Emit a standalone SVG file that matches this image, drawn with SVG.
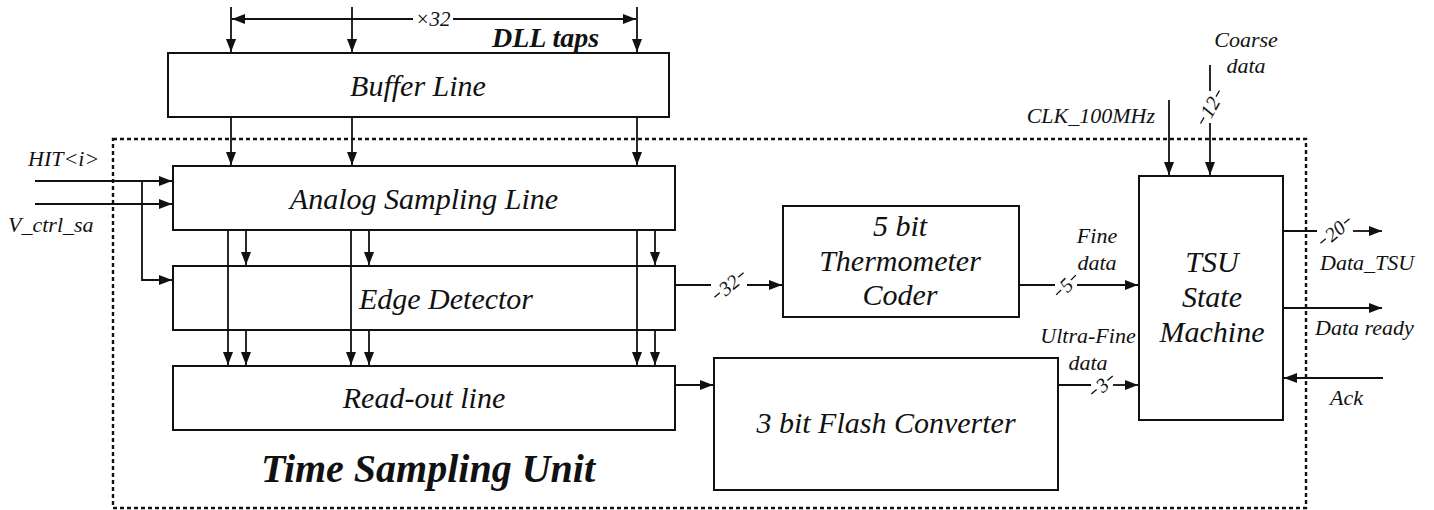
<svg xmlns="http://www.w3.org/2000/svg" width="1434" height="510" viewBox="0 0 1434 510">
<style>
text{font-family:"Liberation Serif","DejaVu Serif",serif;font-style:italic;fill:#111}
.box{fill:#fff;stroke:#111;stroke-width:2}
.lbl{font-size:30px;text-anchor:middle}
.sm{font-size:22px}
.c{text-anchor:middle}
.w{fill:none;stroke:#111;stroke-width:1.8}
.bus{font-size:20px;text-anchor:middle}
.tick{fill:none;stroke:#111;stroke-width:1.3}
</style>
<defs>
<marker id="ah" markerUnits="userSpaceOnUse" markerWidth="14" markerHeight="12" refX="13" refY="6" orient="auto">
<path d="M0,1 L13,6 L0,11 Z" fill="#111"/>
</marker>
</defs>
<rect x="113" y="139" width="1193" height="369" fill="none" stroke="#111" stroke-width="2.4" stroke-dasharray="4 3"/>
<text x="428" y="482" style="font-size:40px;font-weight:bold" class="c">Time Sampling Unit</text>
<g id="buffer"><rect class="box" x="168" y="53" width="501" height="64"/><text class="lbl" x="418" y="96">Buffer Line</text></g>
<g id="analog"><rect class="box" x="173" y="166" width="502" height="64"/><text class="lbl" x="424" y="209">Analog Sampling Line</text></g>
<g id="edge"><rect class="box" x="173" y="266" width="502" height="64"/><text class="lbl" x="446" y="309">Edge Detector</text></g>
<g id="readout"><rect class="box" x="173" y="366" width="502" height="64"/><text class="lbl" x="424" y="408">Read-out line</text></g>
<g id="thermo"><rect class="box" x="783" y="206" width="236" height="111"/><text class="lbl" x="900" y="236">5 bit</text><text class="lbl" x="900" y="271">Thermometer</text><text class="lbl" x="900" y="305">Coder</text></g>
<g id="flash"><rect class="box" x="714" y="358" width="344" height="132"/><text class="lbl" x="886" y="433">3 bit Flash Converter</text></g>
<g id="tsu"><rect class="box" x="1139" y="176" width="144" height="244"/><text class="lbl" x="1212" y="272">TSU</text><text class="lbl" x="1212" y="307">State</text><text class="lbl" x="1212" y="342">Machine</text></g>
<g id="connectors">
<path class="w" d="M231,7V52" marker-end="url(#ah)"/>
<path class="w" d="M352,7V52" marker-end="url(#ah)"/>
<path class="w" d="M637,7V52" marker-end="url(#ah)"/>
<path class="w" d="M413,19H232" marker-end="url(#ah)"/>
<path class="w" d="M453,19H636" marker-end="url(#ah)"/>
<path class="w" d="M231,117V165" marker-end="url(#ah)"/>
<path class="w" d="M352,117V165" marker-end="url(#ah)"/>
<path class="w" d="M637,117V165" marker-end="url(#ah)"/>
<path class="w" d="M228,230V365" marker-end="url(#ah)"/>
<path class="w" d="M351,230V365" marker-end="url(#ah)"/>
<path class="w" d="M637,230V365" marker-end="url(#ah)"/>
<path class="w" d="M246,230V265" marker-end="url(#ah)"/>
<path class="w" d="M369,230V265" marker-end="url(#ah)"/>
<path class="w" d="M655,230V265" marker-end="url(#ah)"/>
<path class="w" d="M246,330V365" marker-end="url(#ah)"/>
<path class="w" d="M369,330V365" marker-end="url(#ah)"/>
<path class="w" d="M655,330V365" marker-end="url(#ah)"/>
<path class="w" d="M35,181H172" marker-end="url(#ah)"/>
<path class="w" d="M35,204H172" marker-end="url(#ah)"/>
<path class="w" d="M142,181V280H172" marker-end="url(#ah)"/>
<path class="w" d="M675,285H711"/>
<path class="w" d="M747,285H782" marker-end="url(#ah)"/>
<path class="w" d="M1019,285H1055"/>
<path class="w" d="M1077,285H1138" marker-end="url(#ah)"/>
<path class="w" d="M675,385H713" marker-end="url(#ah)"/>
<path class="w" d="M1058,385H1091"/>
<path class="w" d="M1113,385H1138" marker-end="url(#ah)"/>
<path class="w" d="M1169,100V175" marker-end="url(#ah)"/>
<path class="w" d="M1210,65V91"/>
<path class="w" d="M1210,123V175" marker-end="url(#ah)"/>
<path class="w" d="M1283,231H1317"/>
<path class="w" d="M1353,231H1382" marker-end="url(#ah)"/>
<path class="w" d="M1283,308H1382" marker-end="url(#ah)"/>
<path class="w" d="M1383,378H1284" marker-end="url(#ah)"/>
</g>
<g id="bus-labels">
<g transform="translate(729,285) rotate(-40)"><text class="bus" y="7">32</text><path class="tick" d="M-19,0H-12 M12,0H19"/></g>
<g transform="translate(1066,285) rotate(-45)"><text class="bus" y="7">5</text><path class="tick" d="M-14,0H-7 M7,0H14"/></g>
<g transform="translate(1102,385) rotate(-40)"><text class="bus" y="7">3</text><path class="tick" d="M-14,0H-7 M7,0H14"/></g>
<g transform="translate(1210,107) rotate(-60)"><text class="bus" y="7">12</text><path class="tick" d="M-19,0H-12 M12,0H19"/></g>
<g transform="translate(1335,231) rotate(-40)"><text class="bus" y="7">20</text><path class="tick" d="M-19,0H-12 M12,0H19"/></g>
</g>
<g id="labels">
<text x="433" y="26" class="c" style="font-size:21px">×32</text>
<text x="492" y="47" style="font-size:28px;font-weight:bold">DLL taps</text>
<text x="28" y="166" class="sm">HIT&lt;i&gt;</text>
<text x="8" y="232" class="sm">V_ctrl_sa</text>
<text x="1155" y="123" class="sm" text-anchor="end">CLK_100MHz</text>
<text x="1246" y="47" class="sm c">Coarse</text>
<text x="1246" y="73" class="sm c">data</text>
<text x="1097" y="243" class="sm c">Fine</text>
<text x="1097" y="270" class="sm c">data</text>
<text x="1088" y="343" class="sm c">Ultra-Fine</text>
<text x="1088" y="370" class="sm c">data</text>
<text x="1320" y="270" class="sm">Data_TSU</text>
<text x="1315" y="335" class="sm">Data ready</text>
<text x="1330" y="405" class="sm">Ack</text>
</g>
</svg>
